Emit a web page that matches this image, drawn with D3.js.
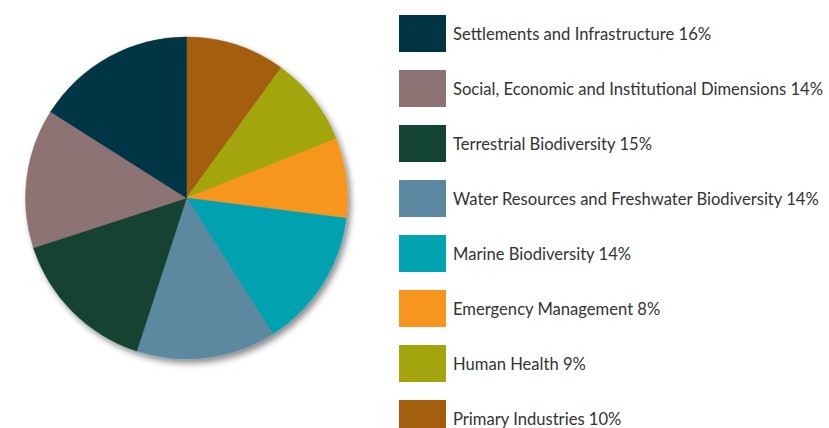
<!DOCTYPE html>
<html lang="en">
<head>
<meta charset="UTF-8">
<title>Pie</title>
<script src="https://d3js.org/d3.v7.min.js"></script>
<style>
  body { margin: 0; background: #fff; }
</style>
</head>
<body>
<div id="chart"></div>
<script>
// legend order (top to bottom)
var categories = [
  "Settlements and Infrastructure",
  "Social, Economic and Institutional Dimensions",
  "Terrestrial Biodiversity",
  "Water Resources and Freshwater Biodiversity",
  "Marine Biodiversity",
  "Emergency Management",
  "Human Health",
  "Primary Industries"
];
var values = [16, 14, 15, 14, 14, 8, 9, 10];
var colors = ["#023544", "#8E7374", "#124333", "#5B88A0", "#01A2B2", "#F7961F", "#A3A50F", "#A35F0D"];

var width = 829, height = 428;
var svg = d3.select("#chart").append("svg")
    .attr("width", width)
    .attr("height", height);

var defs = svg.append("defs");
var f = defs.append("filter").attr("id", "shadow")
    .attr("x", "-20%").attr("y", "-20%").attr("width", "140%").attr("height", "140%");
f.append("feDropShadow")
    .attr("dx", 3).attr("dy", 4)
    .attr("stdDeviation", 3)
    .attr("flood-color", "#000")
    .attr("flood-opacity", 0.45);

var data = categories.map(function(c, i) {
  return {name: c, value: values[i], color: colors[i]};
});

// pie goes clockwise from the top in reverse legend order
var pie = d3.pie().sort(null).value(function(d) { return d.value; });
var arc = d3.arc().innerRadius(0).outerRadius(161);

var g = svg.append("g")
    .attr("transform", "translate(186.5,198)")
    .attr("filter", "url(#shadow)");

g.selectAll("path")
    .data(pie(data.slice().reverse()))
    .enter().append("path")
    .attr("d", arc)
    .attr("fill", function(d) { return d.data.color; })
    .attr("stroke", function(d) { return d.data.color; })
    .attr("stroke-width", 0.5);

// legend
var legend = svg.append("g").attr("transform", "translate(399,15)");
var rows = legend.selectAll("g")
    .data(data)
    .enter().append("g")
    .attr("transform", function(d, i) { return "translate(0," + (i * 55) + ")"; });

rows.append("rect")
    .attr("width", 47)
    .attr("height", 37)
    .attr("fill", function(d) { return d.color; });

rows.append("text")
    .attr("x", 54)
    .attr("y", 24.5)
    .style("font-family", "Lato, 'Open Sans', sans-serif")
    .style("font-size", "16.6px")
    .style("fill", "#333")
    .text(function(d) { return d.name + " " + d.value + "%"; });
</script>
</body>
</html>
